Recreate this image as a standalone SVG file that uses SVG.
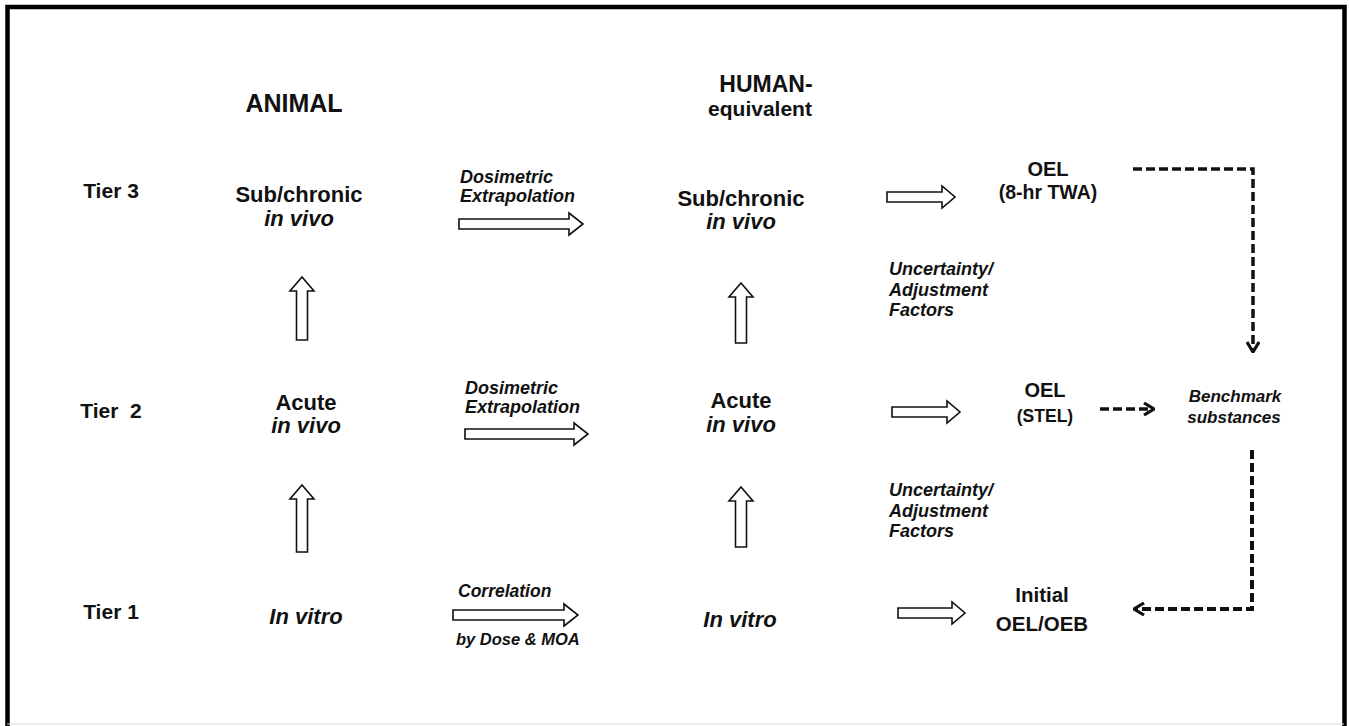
<svg xmlns="http://www.w3.org/2000/svg" width="1349" height="726" viewBox="0 0 1349 726">
<defs>
<style>
text{font-family:"Liberation Sans",Arial,sans-serif;font-weight:bold;fill:#111;}
.c{text-anchor:middle;}
.i{font-style:italic;}
.blk{fill:#fff;stroke:#111;stroke-width:1.6;stroke-linejoin:miter;}
.dash{fill:none;stroke:#111;stroke-width:3.5;stroke-dasharray:9 4;}
</style>
<marker id="hd" viewBox="0 0 12 14" refX="11" refY="7" markerWidth="12" markerHeight="14" markerUnits="userSpaceOnUse" orient="auto">
<path d="M1,1 L11,7 L1,13" fill="none" stroke="#111" stroke-width="3.2"/>
</marker>
</defs>
<rect width="1349" height="726" fill="#fff"/>
<g id="frame">
<path d="M7.5,726 V7 H1344.5 V726" fill="none" stroke="#000" stroke-width="4.5"/>
<line x1="7" y1="724" x2="1344" y2="724" stroke="#ddd" stroke-width="1"/>
</g>
<g id="headers">
<text class="c" x="294" y="112" font-size="25">ANIMAL</text>
<text class="c" x="766" y="92" font-size="23">HUMAN-</text>
<text class="c" x="760" y="116" font-size="21">equivalent</text>
</g>
<g id="tiers">
<text class="c" x="111" y="198" font-size="21">Tier 3</text>
<text class="c" x="111" y="418" font-size="21" xml:space="preserve">Tier  2</text>
<text class="c" x="111" y="619" font-size="21">Tier 1</text>
</g>
<g id="animal-t3"><text class="c" x="299" y="202" font-size="22">Sub/chronic</text><text class="c i" x="299" y="226" font-size="22">in vivo</text></g>
<g id="animal-t2"><text class="c" x="306" y="410" font-size="22">Acute</text><text class="c i" x="306" y="433" font-size="22">in vivo</text></g>
<g id="animal-t1"><text class="c i" x="306" y="624" font-size="22">In vitro</text></g>
<g id="human-t3"><text class="c" x="741" y="206" font-size="22">Sub/chronic</text><text class="c i" x="741" y="229" font-size="22">in vivo</text></g>
<g id="human-t2"><text class="c" x="741" y="408" font-size="22">Acute</text><text class="c i" x="741" y="432" font-size="22">in vivo</text></g>
<g id="human-t1"><text class="c i" x="740" y="627" font-size="22">In vitro</text></g>
<g id="oel-twa"><text class="c" x="1048" y="176" font-size="20">OEL</text><text class="c" x="1048" y="199" font-size="19.5">(8-hr TWA)</text></g>
<g id="oel-stel"><text class="c" x="1045" y="397" font-size="20">OEL</text><text class="c" x="1045" y="422" font-size="17.5">(STEL)</text></g>
<g id="oel-initial"><text class="c" x="1042" y="602" font-size="20.5">Initial</text><text class="c" x="1042" y="631" font-size="20.5">OEL/OEB</text></g>
<g id="benchmark"><text class="c i" x="1235" y="402" font-size="17">Benchmark</text><text class="c i" x="1234" y="423" font-size="17">substances</text></g>
<g id="labels">
<text class="i" x="460" y="183" font-size="18">Dosimetric</text>
<text class="i" x="460" y="202" font-size="18">Extrapolation</text>
<text class="i" x="465" y="394" font-size="18">Dosimetric</text>
<text class="i" x="465" y="413" font-size="18">Extrapolation</text>
<text class="i" x="458" y="597" font-size="17.5">Correlation</text>
<text class="i" x="456" y="645" font-size="16.5">by Dose &amp; MOA</text>
<text class="i" x="889" y="275" font-size="18">Uncertainty/</text>
<text class="i" x="889" y="296" font-size="18">Adjustment</text>
<text class="i" x="889" y="316" font-size="18">Factors</text>
<text class="i" x="889" y="496" font-size="18">Uncertainty/</text>
<text class="i" x="889" y="517" font-size="18">Adjustment</text>
<text class="i" x="889" y="537" font-size="18">Factors</text>
</g>
<g id="connectors">
<polygon class="blk" points="459,219 569,219 569,213 583,224 569,235 569,229 459,229"/>
<polygon class="blk" points="465,429 574,429 574,423 588,434 574,445 574,439 465,439"/>
<polygon class="blk" points="453,610 564,610 564,604 578,615 564,626 564,620 453,620"/>
<polygon class="blk" points="887,192 942,192 942,186 955,197 942,208 942,202 887,202"/>
<polygon class="blk" points="892,407 947,407 947,401 960,412 947,423 947,417 892,417"/>
<polygon class="blk" points="898,608 952,608 952,602 965,613 952,624 952,618 898,618"/>
<polygon class="blk" points="296.5,340 296.5,291 290,291 302,277 314,291 307.5,291 307.5,340"/>
<polygon class="blk" points="296.5,552 296.5,499 290,499 302,485 314,499 307.5,499 307.5,552"/>
<polygon class="blk" points="735.5,343 735.5,297 729,297 741,283 753,297 746.5,297 746.5,343"/>
<polygon class="blk" points="735.5,547 735.5,501 729,501 741,487 753,501 746.5,501 746.5,547"/>
<path class="dash" d="M1133,169 H1253 V352" marker-end="url(#hd)"/>
<path class="dash" d="M1100,409 H1154" marker-end="url(#hd)"/>
<path class="dash" d="M1252,450 V609 H1134" marker-end="url(#hd)" style="stroke-width:4"/>
</g>
</svg>
